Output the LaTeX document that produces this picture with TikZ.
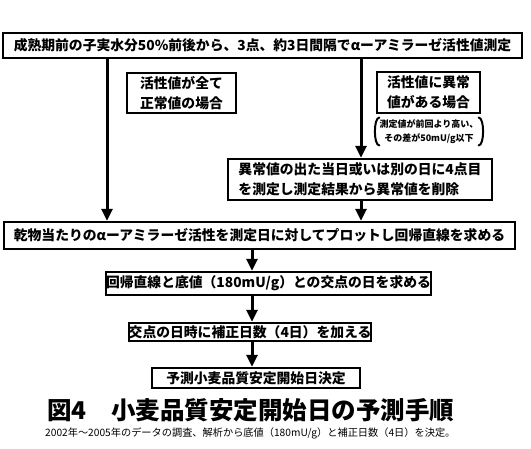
\documentclass[tikz,border=0pt]{standalone}
\usepackage{fontspec}
\setmainfont{Noto Sans CJK JP}
\usetikzlibrary{arrows.meta}
\begin{document}
\begin{tikzpicture}[x=1pt,y=-1pt,
  box/.style={draw,line width=2.4pt,inner sep=0pt,align=left,font=\fontsize{13.8}{20}\selectfont\bfseries},
  arr/.style={line width=3pt,-{Triangle[width=11pt,length=12pt]}},
  brk/.style={line width=2pt,line cap=round}]
\useasboundingbox (0,0) rectangle (531,449);
\node[box,minimum width=519pt,minimum height=25pt] (top) at (262.5,45.5) {成熟期前の子実水分50\%前後から、3点、約3日間隔でαーアミラーゼ活性値測定};
\node[box,minimum width=109pt,minimum height=40pt] (ok) at (181.5,93) {活性値が全て\\正常値の場合};
\node[box,minimum width=103pt,minimum height=41pt] (ng) at (428.5,92.5) {活性値に異常\\値がある場合};
\node[align=center,inner xsep=5pt,inner ysep=2pt,font=\fontsize{9}{13.5}\selectfont\bfseries] (note) at (429,131.5) {測定値が前回より高い、\\その差が50mU/g以下};
\node[box,minimum width=264pt,minimum height=41pt] (redo) at (360,179.5) {異常値の出た当日或いは別の日に4点目\\を測定し測定結果から異常値を削除};
\node[box,minimum width=511pt,minimum height=27pt] (main) at (259.5,235.5) {乾物当たりのαーアミラーゼ活性を測定日に対してプロットし回帰直線を求める};
\node[box,minimum width=323pt,minimum height=23pt] (reg) at (268.5,283.5) {回帰直線と底値（180mU/g）との交点の日を求める};
\node[box,minimum width=240pt,minimum height=18pt] (add) at (250,332) {交点の日時に補正日数（4日）を加える};
\node[box,minimum width=208pt,minimum height=20pt] (fin) at (256,378) {予測小麦品質安定開始日決定};
\node[anchor=west,inner sep=0pt,font=\fontsize{24.5}{26}\selectfont\bfseries] (title) at (47,410) {図4　小麦品質安定開始日の予測手順};
\node[anchor=west,inner sep=0pt,font=\fontsize{10.2}{12}\selectfont] (sub) at (45,433) {2002年～2005年のデータの調査、解析から底値（180mU/g）と補正日数（4日）を決定。};
\coordinate (lft) at (107,0);
\coordinate (rgt) at (361,0);
\coordinate (mid) at (252,0);
\draw[arr] (top.south -| lft) -- (main.north -| lft);
\draw[arr] (top.south -| rgt) -- (redo.north -| rgt);
\draw[arr] (redo.south -| rgt) -- (main.north -| rgt);
\draw[arr] (main.south -| mid) -- (reg.north -| mid);
\draw[arr] (reg.south -| mid) -- (add.north -| mid);
\draw[arr] (add.south -| mid) -- (fin.north -| mid);
\draw[brk] ([xshift=5pt]note.north west) .. controls ([xshift=-1pt]note.north west) and ([xshift=-1pt]note.south west) .. ([xshift=5pt]note.south west);
\draw[brk] ([xshift=-5pt]note.north east) .. controls ([xshift=1pt]note.north east) and ([xshift=1pt]note.south east) .. ([xshift=-5pt]note.south east);
\end{tikzpicture}
\end{document}
